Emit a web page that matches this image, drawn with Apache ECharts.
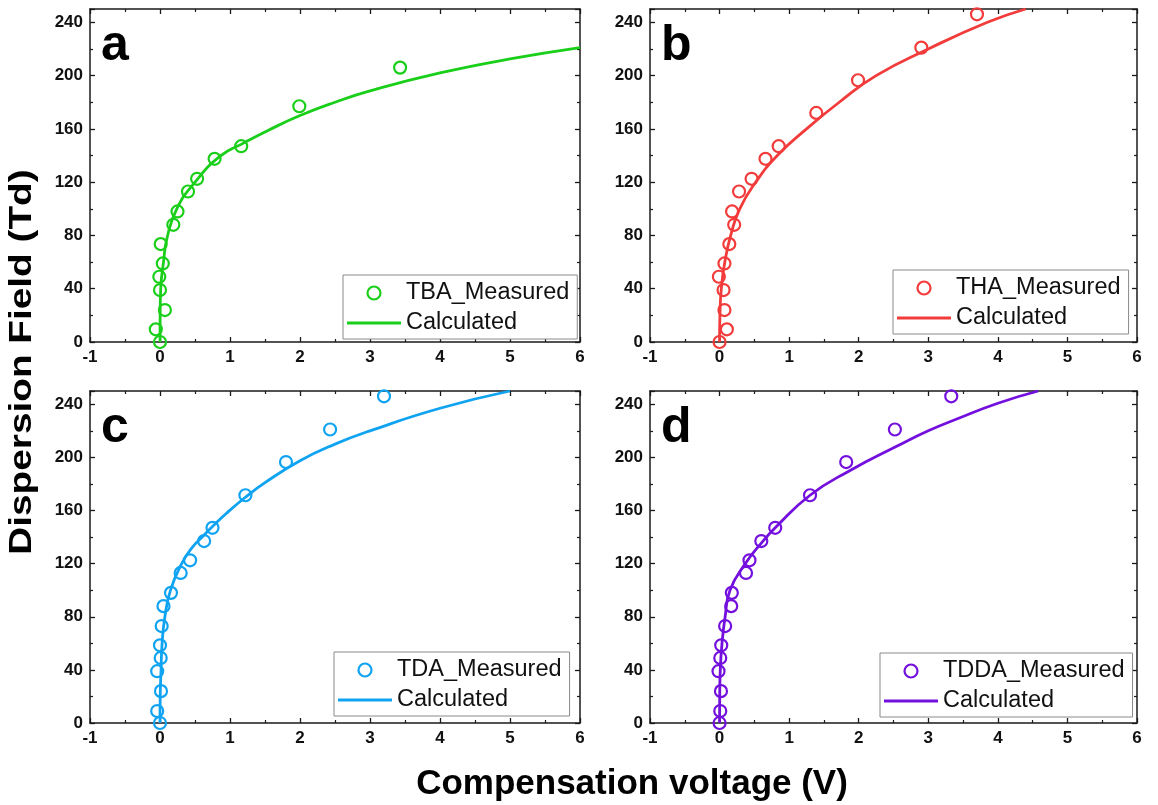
<!DOCTYPE html>
<html>
<head>
<meta charset="utf-8">
<script src="https://cdn.jsdelivr.net/npm/echarts@6/dist/echarts.min.js"></script>
<style>
html,body{margin:0;padding:0;background:#fff;}
#chart{width:1158px;height:805px;}
</style>
</head>
<body>
<div id="chart"></div>
<script>
// ---- data ----
const xTicks = [-1, 0, 1, 2, 3, 4, 5, 6];
const yTicks = [0, 40, 80, 120, 160, 200, 240];

// Panel a (TBA)
const aMeasX = [0, -0.06, 0.07, 0, -0.01, 0.04, 0.01, 0.19, 0.25, 0.40, 0.53, 0.78, 1.16, 1.99, 3.43];
const aMeasY = [0, 9.5, 24, 39, 49, 59, 73.5, 88, 98, 113, 122.5, 137.5, 147, 177, 206];
const aCalcX = [0, 0.002, 0.01, 0.05, 0.1, 0.24, 0.5, 0.86, 1.2, 1.55, 2, 2.5, 3, 4, 5, 6];
const aCalcY = [0, 20, 40, 60, 78, 100, 120, 139.5, 149.5, 159, 170, 180, 188.5, 202, 212.5, 221];

// Panel b (THA)
const bMeasX = [0, 0.105, 0.07, 0.057, -0.01, 0.07, 0.14, 0.21, 0.18, 0.28, 0.46, 0.66, 0.85, 1.39, 1.99, 2.9, 3.7];
const bMeasY = [0, 9.5, 24, 39, 49, 59, 73.5, 88, 98, 113, 122.5, 137.5, 147, 172, 196.5, 221, 246];
const bCalcX = [0, 0.005, 0.025, 0.075, 0.16, 0.29, 0.52, 0.83, 1.25, 1.72, 2.25, 3.0, 3.85, 4.4];
const bCalcY = [0, 20, 40, 60, 80, 100, 120, 140, 160, 180, 200, 220, 240, 250];

// Panel c (TDA)
const cMeasX = [0, -0.04, 0.014, -0.04, 0.01, 0, 0.024, 0.05, 0.157, 0.295, 0.43, 0.63, 0.75, 1.22, 1.8, 2.43, 3.2];
const cMeasY = [0, 9, 24, 39, 49, 58.5, 73, 88, 98, 113, 122.5, 137, 147, 171.5, 196.5, 221, 246];
const cCalcX = [0, 0.003, 0.015, 0.03, 0.07, 0.15, 0.31, 0.45, 0.62, 0.75, 0.95, 1.22, 1.5, 2, 2.5, 3, 4, 5];
const cCalcY = [0, 20, 40, 60, 80, 100, 120, 131.5, 141, 148, 158, 170, 181, 197.5, 210, 220, 237, 250];

// Panel d (TDDA)
const dMeasX = [0, 0.01, 0.02, -0.015, 0.01, 0.024, 0.08, 0.167, 0.176, 0.38, 0.43, 0.6, 0.8, 1.3, 1.82, 2.52, 3.33];
const dMeasY = [0, 9, 24, 39, 49, 58.5, 73, 88, 98, 113, 122.5, 137, 147, 171.5, 196.5, 221, 246];
const dCalcX = [0, 0.002, 0.01, 0.035, 0.08, 0.15, 0.37, 0.6, 0.8, 1.3, 1.87, 2.56, 3, 3.4, 4, 4.58];
const dCalcY = [0, 20, 40, 60, 80, 100, 120, 135.5, 147, 171.5, 190, 208.7, 220, 228.7, 240.8, 250];

const panelLetters = ['a', 'b', 'c', 'd'];
const measNames = ['TBA_Measured', 'THA_Measured', 'TDA_Measured', 'TDDA_Measured'];
const calcLabel = 'Calculated';
const xTitle = 'Compensation voltage (V)';
const yTitle = 'Dispersion Field (Td)';

// ---- styling / layout ----
const colors = ['#1ACF1A', '#F23B3B', '#0FA3F2', '#7410DD'];
const FONT = '"Liberation Sans", Arial, sans-serif';
const grids = [
  {left: 90, top: 9, width: 490, height: 333},
  {left: 650, top: 9, width: 487, height: 333},
  {left: 90, top: 391, width: 490, height: 332},
  {left: 650, top: 391, width: 487, height: 332}
];
const legendPos = [
  {left: 343, top: 275},
  {left: 893, top: 270},
  {left: 334, top: 652},
  {left: 880, top: 653}
];

const zip = (xs, ys) => xs.map((x, i) => [x, ys[i]]);
const meas = [zip(aMeasX, aMeasY), zip(bMeasX, bMeasY), zip(cMeasX, cMeasY), zip(dMeasX, dMeasY)];
const calc = [zip(aCalcX, aCalcY), zip(bCalcX, bCalcY), zip(cCalcX, cCalcY), zip(dCalcX, dCalcY)];

const axisLine = {show: true, onZero: false, lineStyle: {color: '#1a1a1a', width: 1.5}};
const tick = {show: true, inside: true, length: 5, lineStyle: {color: '#1a1a1a', width: 1.3}};
const minor = {show: true, splitNumber: 2, length: 3, lineStyle: {color: '#1a1a1a', width: 1.2}};
const lbl = {show: true, fontFamily: FONT, fontWeight: 'bold', fontSize: 17, color: '#111', margin: 7};
const LINE_ICON = 'path://M0,0L54,0L54,2.8L0,2.8Z';

const xAxes = [], yAxes = [], series = [], legends = [], graphics = [];
grids.forEach((g, i) => {
  [false, true].forEach(mirror => {
    xAxes.push({
      type: 'value', gridIndex: i, min: xTicks[0], max: xTicks[xTicks.length - 1], interval: 1,
      position: mirror ? 'top' : 'bottom',
      axisLine, axisTick: tick, minorTick: minor,
      splitLine: {show: false}, minorSplitLine: {show: false},
      axisLabel: mirror ? {show: false} : lbl
    });
    yAxes.push({
      type: 'value', gridIndex: i, min: yTicks[0], max: 250, interval: 40,
      position: mirror ? 'right' : 'left',
      axisLine, axisTick: tick, minorTick: minor,
      splitLine: {show: false}, minorSplitLine: {show: false},
      axisLabel: mirror ? {show: false} : Object.assign({showMaxLabel: false}, lbl)
    });
  });
  const c = colors[i];
  const calcName = panelLetters[i] + '_Calc';
  series.push({
    type: 'line', name: calcName, xAxisIndex: 2 * i, yAxisIndex: 2 * i,
    data: calc[i], smooth: 0.5, symbol: 'none',
    lineStyle: {color: c, width: 2.8}, itemStyle: {color: c}, z: 2
  });
  series.push({
    type: 'scatter', name: measNames[i], xAxisIndex: 2 * i, yAxisIndex: 2 * i,
    data: meas[i], symbol: 'circle', symbolSize: 12,
    itemStyle: {color: 'rgba(0,0,0,0)', borderColor: c, borderWidth: 2.2, opacity: 1}, z: 3
  });
  legends.push({
    left: legendPos[i].left, top: legendPos[i].top, orient: 'vertical',
    itemWidth: 54, itemHeight: 13, itemGap: 6,
    padding: [6, 8, 4, 4],
    borderColor: '#8a8a8a', borderWidth: 1, backgroundColor: '#fff',
    selectedMode: false,
    textStyle: {fontFamily: FONT, fontSize: 23.5, color: '#111'},
    formatter: name => name.endsWith('_Calc') ? calcLabel : name,
    data: [
      {name: measNames[i], icon: 'circle', itemStyle: {color: 'rgba(0,0,0,0)', borderColor: c, borderWidth: 2.2, opacity: 1}},
      {name: calcName, icon: LINE_ICON, itemStyle: {color: c, borderWidth: 0, opacity: 1}}
    ]
  });
  graphics.push({
    type: 'text', left: g.left + 11, top: g.top + 12,
    style: {text: panelLetters[i], font: 'bold 50px ' + FONT, fill: '#000'}
  });
});

graphics.push({
  type: 'text', x: 22, y: 362, rotation: Math.PI / 2, scaleX: 1.25,
  style: {text: yTitle, font: 'bold 31px ' + FONT, fill: '#000', align: 'center', verticalAlign: 'middle'}
});
graphics.push({
  type: 'text', x: 632, y: 784,
  style: {text: xTitle, font: 'bold 35px ' + FONT, fill: '#000', align: 'center', verticalAlign: 'middle'}
});

const chart = echarts.init(document.getElementById('chart'), null, {renderer: 'canvas'});
chart.setOption({
  animation: false,
  backgroundColor: '#fff',
  grid: grids.map(g => Object.assign({containLabel: false, show: false}, g)),
  xAxis: xAxes,
  yAxis: yAxes,
  legend: legends,
  series,
  graphic: graphics
});
</script>
</body>
</html>
